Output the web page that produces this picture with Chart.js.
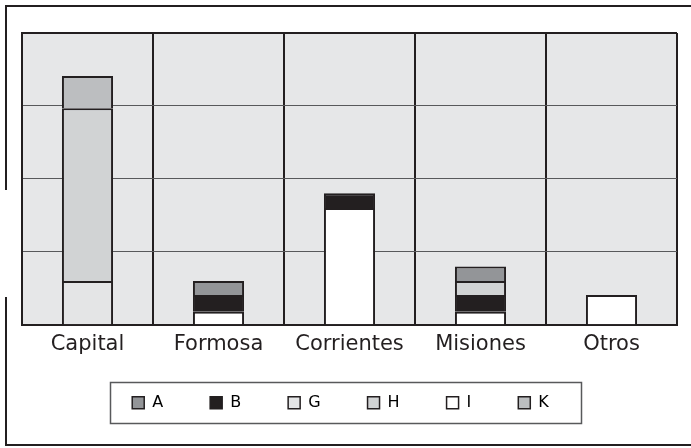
<!DOCTYPE html>
<html>
<head>
<meta charset="utf-8">
<script src="https://cdn.jsdelivr.net/npm/chart.js@4.4.1/dist/chart.umd.min.js"></script>
<style>
  html, body { margin: 0; padding: 0; background: #ffffff; }
  #wrap { width: 691px; height: 448px; position: relative; }
</style>
</head>
<body>
<div id="wrap"><canvas id="c" width="691" height="448"></canvas></div>
<script>
// ---- data ----
const categories = ["Capital", "Formosa", "Corrientes", "Misiones", "Otros"];
// stacked bottom-to-top order: I, G, B, H, A, K
const seriesI = [null, 1.8, 16.0, 1.8, 4.1];
const seriesG = [6.0, null, null, null, null];
const seriesB = [null, 2.3, 2.05, 2.3, null];
const seriesH = [23.7, null, null, 1.9, null];
const seriesA = [null, 1.9, null, 2.0, null];
const seriesK = [4.4, null, null, null, null];
const yTicks = [0, 10, 20, 30, 40];

const dark = "#231f20";
const colors = { A: "#939598", B: "#231f20", G: "#e4e5e6", H: "#d1d3d4", I: "#ffffff", K: "#bcbec0" };

function ds(label, data) {
  return {
    label: label,
    data: data,
    backgroundColor: colors[label],
    borderColor: dark,
    borderWidth: 2,
    borderSkipped: "start",
    barPercentage: 0.39,
    categoryPercentage: 1.0
  };
}

const decor = {
  id: "decor",
  beforeInit(chart) {
    const lg = chart.legend;
    if (lg) {
      const origFit = lg.fit;
      lg.fit = function () { origFit.call(this); this.height = 84; };
    }
  },
  afterLayout(chart) {
    const lg = chart.legend;
    if (lg) {
      lg.left -= 9; lg.right -= 9;
      const shift = lg.top - (chart.chartArea.bottom + 23);
      lg.top -= shift; lg.bottom -= shift;
    }
  },
  beforeDraw(chart) {
    const ctx = chart.ctx, a = chart.chartArea;
    ctx.save();
    ctx.fillStyle = "#e6e7e8";
    ctx.fillRect(a.left, a.top, a.right - a.left, a.bottom - a.top);
    // outer frame
    ctx.strokeStyle = dark;
    ctx.lineWidth = 2;
    ctx.beginPath();
    ctx.moveTo(6, 190); ctx.lineTo(6, 6); ctx.lineTo(691, 6);
    ctx.moveTo(6, 297); ctx.lineTo(6, 445); ctx.lineTo(691, 445);
    ctx.stroke();
    ctx.restore();
  },
  afterDraw(chart) {
    const lg = chart.legend;
    if (!lg || !lg.legendHitBoxes || !lg.legendHitBoxes.length) return;
    const hb = lg.legendHitBoxes;
    let l = Infinity, r = -Infinity, cy = 0;
    hb.forEach(b => { l = Math.min(l, b.left); r = Math.max(r, b.left + b.width); cy += b.top + b.height / 2; });
    cy /= hb.length;
    const ctx = chart.ctx;
    ctx.save();
    ctx.strokeStyle = "#58595b";
    ctx.lineWidth = 1.5;
    ctx.strokeRect(Math.round(l - 22) + 0.5, Math.round(cy - 21) + 0.5, Math.round(r - l + 54), 41);
    ctx.restore();
  }
};

new Chart(document.getElementById("c"), {
  type: "bar",
  data: {
    labels: categories,
    datasets: [
      ds("I", seriesI), ds("G", seriesG), ds("B", seriesB),
      ds("H", seriesH), ds("A", seriesA), ds("K", seriesK)
    ]
  },
  options: {
    responsive: false,
    animation: false,
    layout: { padding: { left: 22, right: 14, top: 33, bottom: 0 } },
    plugins: {
      tooltip: { enabled: false },
      legend: {
        position: "bottom",
        labels: {
          font: { family: "DejaVu Sans", size: 16 },
          color: dark,
          boxWidth: 12,
          boxHeight: 12,
          padding: 47,
          sort: (a, b) => a.text.localeCompare(b.text),
          generateLabels(chart) {
            return chart.data.datasets.map((d, i) => ({
              text: d.label,
              fillStyle: d.backgroundColor,
              strokeStyle: dark,
              lineWidth: 1.5,
              datasetIndex: i,
              hidden: false
            }));
          }
        }
      }
    },
    scales: {
      x: {
        stacked: true,
        offset: true,
        grid: { offset: true, color: dark, lineWidth: 2, drawTicks: false },
        border: { color: dark, width: 2 },
        ticks: { color: dark, font: { family: "DejaVu Sans", size: 21 }, padding: 7 }
      },
      y: {
        stacked: true,
        min: yTicks[0],
        max: yTicks[yTicks.length - 1],
        afterBuildTicks(scale) { scale.ticks = yTicks.map(v => ({ value: v })); },
        grid: {
          drawTicks: false,
          color: c => (c.tick && c.tick.value === yTicks[yTicks.length - 1]) ? dark : "#58595b",
          lineWidth: c => (c.tick && c.tick.value === yTicks[yTicks.length - 1]) ? 2 : 1
        },
        border: { color: dark, width: 2 },
        ticks: { display: false }
      }
    }
  },
  plugins: [decor]
});
</script>
</body>
</html>
